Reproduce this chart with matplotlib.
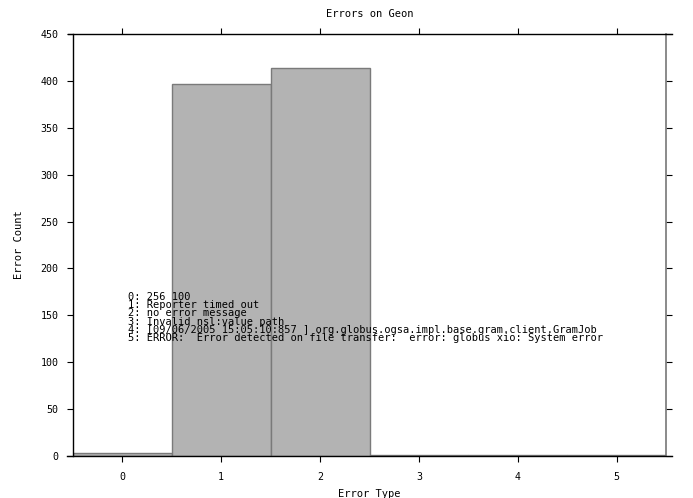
import matplotlib
matplotlib.use("Agg")
import matplotlib.pyplot as plt

categories = [0, 1, 2, 3, 4, 5]
counts = [3, 397, 414, 1, 1, 1]
y_ticks = [0, 50, 100, 150, 200, 250, 300, 350, 400, 450]
legend_lines = [
    "0: 256 100",
    "1: Reporter timed out",
    "2: no error message",
    "3: Invalid nsl:value path",
    "4: [09/06/2005 15:05:10:857 ] org.globus.ogsa.impl.base.gram.client.GramJob",
    "5: ERROR:  Error detected on file transfer:  error: globus xio: System error",
]

mono = "DejaVu Sans Mono"
plt.rcParams['font.family'] = [mono]

fig = plt.figure(figsize=(6.93, 4.98), dpi=100)
ax = fig.add_axes([73/693, 1-456/498, (666-73)/693, (456-34)/498])

ax.bar(categories, counts, width=1.0, color="#b3b3b3", edgecolor="#7a7a7a", linewidth=1.0, zorder=2)

ax.set_xlim(-0.5, 5.5)
ax.set_ylim(0, 450)
ax.set_xticks(categories)
ax.set_yticks(y_ticks)
ax.tick_params(axis='both', which='both', direction='out', length=4.5, width=0.8,
               labelsize=7.2, pad=6, top=True, right=True, colors='black')
ax.tick_params(axis='x', pad=7)

for s in ['left', 'top', 'bottom']:
    ax.spines[s].set_color('black')
    ax.spines[s].set_linewidth(1.0)
ax.spines['right'].set_color('#777777')
ax.spines['right'].set_linewidth(1.2)
ax.spines['bottom'].set_bounds(-0.56, 5.56)
ax.spines['top'].set_bounds(-0.55, 5.56)
ax.spines['bottom'].set_zorder(3)

ax.set_title("Errors on Geon", fontsize=7.5, pad=12)
ax.set_xlabel("Error Type", fontsize=7.5, labelpad=5)
ax.set_ylabel("Error Count", fontsize=7.5, labelpad=12)

ax.text((128-73)/593, (456-317.5)/422, "\n".join(legend_lines), transform=ax.transAxes,
        fontsize=7.5, va='center', ha='left', color='black', zorder=5,
        linespacing=0.77, clip_on=False)

fig.savefig("out.png", dpi=100)
